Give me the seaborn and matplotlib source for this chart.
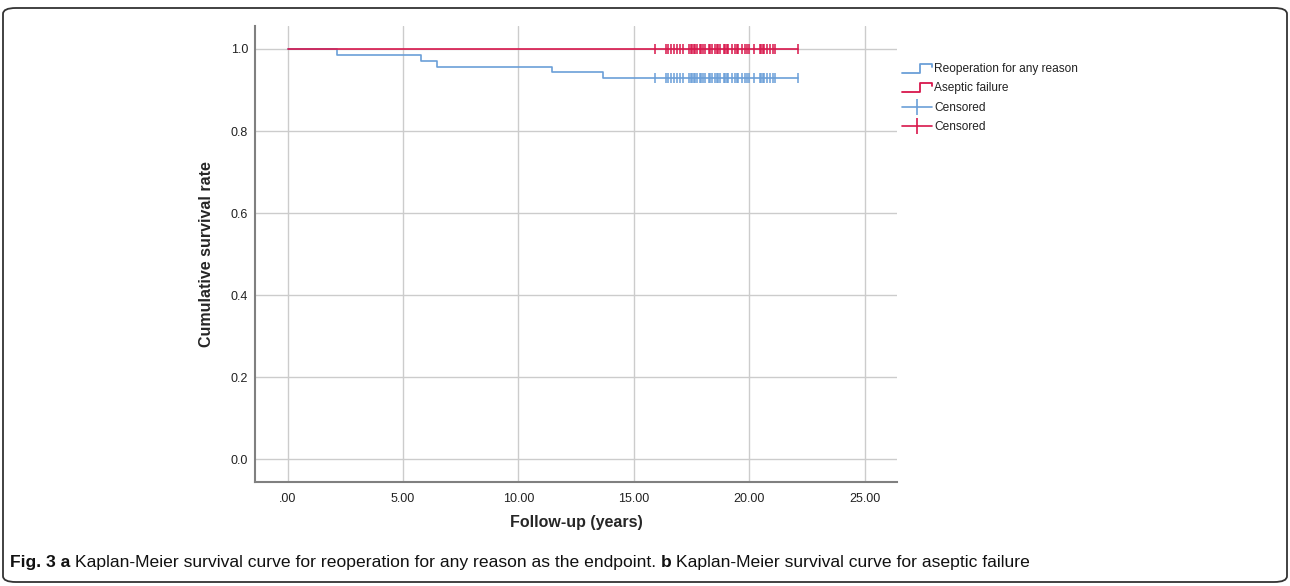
import numpy as np
import pandas as pd
import seaborn as sns
import matplotlib.pyplot as plt
from matplotlib.legend_handler import HandlerBase
from matplotlib.lines import Line2D
from matplotlib.patches import FancyBboxPatch

# ---- data ----
groups = ["Reoperation for any reason", "Aseptic failure"]
colors = ["#6b9fd8", "#d8174c"]
n_patients = 70
event_times = [2.15, 5.77, 6.46, 11.47, 13.66]      # reoperations
censor_times = [15.92, 16.39, 16.49, 16.59, 16.75, 16.88, 17.00, 17.14,
                17.40, 17.46, 17.52, 17.58, 17.65, 17.72, 17.84, 17.91,
                17.98, 18.08, 18.23, 18.30, 18.37, 18.52, 18.59, 18.66,
                18.73, 18.90, 18.96, 19.02, 19.09, 19.24, 19.38, 19.45,
                19.52, 19.67, 19.81, 19.89, 19.96, 20.20, 20.46, 20.52,
                20.58, 20.64, 20.75, 20.90, 21.00, 21.11, 22.12]
x_ticks = [0, 5, 10, 15, 20, 25]
x_labels = [".00", "5.00", "10.00", "15.00", "20.00", "25.00"]
y_ticks = [0.0, 0.2, 0.4, 0.6, 0.8, 1.0]
y_labels = ["0.0", "0.2", "0.4", "0.6", "0.8", "1.0"]
caption = [("Fig. 3 a", "bold"),
           ("Kaplan-Meier survival curve for reoperation for any reason as the endpoint.", "normal"),
           ("b", "bold"),
           ("Kaplan-Meier survival curve for aseptic failure", "normal")]


def km_steps(events, n):
    """Kaplan-Meier survival after each event (no censoring before the events)."""
    surv, s, at_risk = [], 1.0, n
    for _ in events:
        s *= 1 - 1 / at_risk
        at_risk -= 1
        surv.append(s)
    return surv


surv_any = km_steps(event_times, n_patients)
t_end = max(censor_times)

curve_df = pd.concat([
    pd.DataFrame({"time": [0] + event_times + [t_end],
                  "surv": [1.0] + surv_any + [surv_any[-1]],
                  "group": groups[0]}),
    pd.DataFrame({"time": [0, t_end], "surv": [1.0, 1.0], "group": groups[1]}),
], ignore_index=True)

cens_df = pd.concat([
    pd.DataFrame({"time": censor_times, "surv": surv_any[-1], "group": groups[0]}),
    pd.DataFrame({"time": censor_times, "surv": 1.0, "group": groups[1]}),
], ignore_index=True)

palette = dict(zip(groups, colors))

sns.set_style("white")
plt.rcParams["font.family"] = ["Liberation Sans", "DejaVu Sans"]

fig = plt.figure(figsize=(12.9, 5.86), dpi=100)
ax = fig.add_axes([255 / 1290, 1 - 481.7 / 586, 642 / 1290, 455.7 / 586])

sns.lineplot(data=curve_df, x="time", y="surv", hue="group", palette=palette,
             drawstyle="steps-post", estimator=None, sort=False, units="group",
             lw=1.2, legend=False, ax=ax)
sns.scatterplot(data=cens_df, x="time", y="surv", hue="group", palette=palette,
                marker="|", s=55, linewidth=1.1, legend=False, ax=ax)

ax.set_xlim(-1.41, 26.39)
ax.set_ylim(-0.0546, 1.056)
ax.set_xticks(x_ticks, x_labels, fontsize=9)
ax.set_yticks(y_ticks, y_labels, fontsize=9)
ax.tick_params(length=0, colors="#222222")
ax.tick_params(axis="x", pad=8)
ax.tick_params(axis="y", pad=5)
ax.grid(True, color="#cccccc", lw=1)
ax.set_axisbelow(True)
for side in ["top", "right"]:
    ax.spines[side].set_visible(False)
for side in ["left", "bottom"]:
    ax.spines[side].set_color("#808080")
    ax.spines[side].set_linewidth(1.5)

ax.set_xlabel("Follow-up (years)", fontsize=11.5, fontweight="bold")
ax.set_ylabel("Cumulative survival rate", fontsize=11.5, fontweight="bold")
ax.xaxis.set_label_coords(0.5, -0.074)
ax.yaxis.set_label_coords(-0.064, 0.5)


class StepHandler(HandlerBase):
    def create_artists(self, legend, orig_handle, xdescent, ydescent,
                       width, height, fontsize, trans):
        lo, hi = -0.1 * height, 0.95 * height
        xs = [0, 0.6 * width, 0.6 * width, width, width]
        ys = [lo, lo, hi, hi, hi - 0.35 * height]
        line = Line2D(np.array(xs) - xdescent, np.array(ys) - ydescent,
                      color=orig_handle.get_color(), lw=1.3)
        line.set_transform(trans)
        return [line]


step_handles = [Line2D([], [], color=c, lw=1.2) for c in colors]
cens_handles = [Line2D([], [], color=c, lw=1.2, marker="|", markersize=12,
                       markeredgewidth=1.2) for c in colors]
leg = fig.legend(step_handles + cens_handles,
                 groups + ["Censored", "Censored"],
                 handler_map={h: StepHandler() for h in step_handles},
                 loc="upper left", bbox_to_anchor=(896 / 1290, 1 - 57 / 586),
                 frameon=False, fontsize=8.6, handlelength=2.5,
                 handletextpad=0.2, labelspacing=0.62, borderpad=0)
for t in leg.get_texts():
    t.set_color("#222222")

# caption under the figure
cap_font = ["Liberation Sans Narrow", "Liberation Sans", "DejaVu Sans"]
renderer = fig.canvas.get_renderer()
x_px = 10
for txt, weight in caption:
    t = fig.text(x_px / 1290, 1 - 567 / 586, txt, fontsize=12.6,
                 fontweight=weight, family=cap_font, va="baseline", ha="left",
                 color="#111111")
    bb = t.get_window_extent(renderer)
    x_px += bb.width + 4.5

# outer figure frame
frame = FancyBboxPatch((3 / 1290, 4 / 586), 1284 / 1290, 574 / 586,
                       boxstyle="round,pad=0,rounding_size=0.01",
                       transform=fig.transFigure, fill=False,
                       ec="#333333", lw=1.3)
fig.patches.append(frame)

fig.savefig("out.png", dpi=100)
